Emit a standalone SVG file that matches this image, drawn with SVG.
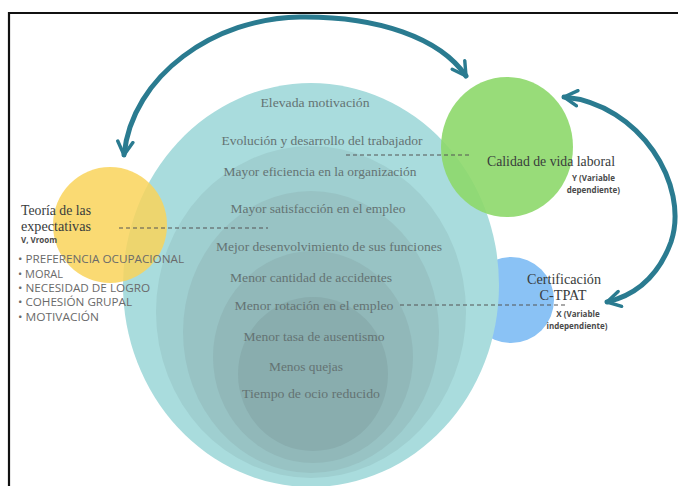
<svg xmlns="http://www.w3.org/2000/svg" width="678" height="486" viewBox="0 0 678 486">
<defs>
<marker id="ah" viewBox="0 0 10 10" refX="8" refY="5" markerWidth="3.8" markerHeight="3.8" orient="auto-start-reverse" markerUnits="strokeWidth">
<path d="M1,1 L8,5 L1,9" fill="none" stroke="#2a7b90" stroke-width="1.8" stroke-linecap="round" stroke-linejoin="round"/>
</marker>
</defs>
<style>
.ser{font-family:"Liberation Serif","DejaVu Serif",serif;}
.in{font-size:13px;fill:#647373;text-anchor:middle;}
.hd{font-size:14px;fill:#383c3c;}
.sm{font-family:"Open Sans","Liberation Sans",sans-serif;font-size:8px;font-weight:bold;fill:#4a4a4a;}
.bl{font-family:"Open Sans","Liberation Sans",sans-serif;font-size:11px;fill:#6a6a6a;}
.dash{stroke:#555;stroke-width:1.2;stroke-dasharray:4 3;fill:none;}
.arc{fill:none;stroke:#2a7b90;stroke-width:5;stroke-linecap:round;}
</style>
<rect width="678" height="486" fill="#fff"/>
<path d="M9,486 V13 H678" fill="none" stroke="#111" stroke-width="2.2"/>
<g id="certificacion">
<ellipse cx="511" cy="300" rx="43" ry="43" fill="#8ac2f5"/>
</g>
<g id="efectos">
<ellipse cx="311" cy="285" rx="188" ry="202" fill="#a9dcdd"/>
<ellipse cx="311" cy="312" rx="155" ry="166" fill="#9fcfd0"/>
<ellipse cx="311" cy="332" rx="128" ry="141" fill="#98c3c4"/>
<ellipse cx="313" cy="357" rx="100" ry="106" fill="#91b8b9"/>
<ellipse cx="313" cy="374" rx="75" ry="77" fill="#89adae"/>
<text class="ser in" x="315" y="107" textLength="109" lengthAdjust="spacingAndGlyphs">Elevada motivación</text>
<text class="ser in" x="322" y="145" textLength="201" lengthAdjust="spacingAndGlyphs">Evolución y desarrollo del trabajador</text>
<text class="ser in" x="320" y="176" textLength="193" lengthAdjust="spacingAndGlyphs">Mayor eficiencia en la organización</text>
<text class="ser in" x="318" y="213" textLength="175" lengthAdjust="spacingAndGlyphs">Mayor satisfacción en el empleo</text>
<text class="ser in" x="329" y="251" textLength="226" lengthAdjust="spacingAndGlyphs">Mejor desenvolvimiento de sus funciones</text>
<text class="ser in" x="311" y="282" textLength="162" lengthAdjust="spacingAndGlyphs">Menor cantidad de accidentes</text>
<text class="ser in" x="314" y="310" textLength="159" lengthAdjust="spacingAndGlyphs">Menor rotación en el empleo</text>
<text class="ser in" x="314" y="341" textLength="141" lengthAdjust="spacingAndGlyphs">Menor tasa de ausentismo</text>
<text class="ser in" x="306" y="371" textLength="74" lengthAdjust="spacingAndGlyphs">Menos quejas</text>
<text class="ser in" x="311" y="398" textLength="138" lengthAdjust="spacingAndGlyphs">Tiempo de ocio reducido</text>
</g>
<g id="teoria">
<ellipse cx="110" cy="225" rx="57" ry="58" fill="#f9d45a" fill-opacity="0.85"/>
<text class="ser hd" x="21" y="215" textLength="70" lengthAdjust="spacingAndGlyphs">Teoría de las</text>
<text class="ser hd" x="21" y="231" textLength="70" lengthAdjust="spacingAndGlyphs">expectativas</text>
<text class="sm" x="21" y="243" textLength="36" lengthAdjust="spacingAndGlyphs">V, Vroom</text>
<text class="bl" x="18" y="263" textLength="166" lengthAdjust="spacingAndGlyphs">• PREFERENCIA OCUPACIONAL</text>
<text class="bl" x="18" y="278">• MORAL</text>
<text class="bl" x="18" y="292" textLength="132" lengthAdjust="spacingAndGlyphs">• NECESIDAD DE LOGRO</text>
<text class="bl" x="18" y="306" textLength="114" lengthAdjust="spacingAndGlyphs">• COHESIÓN GRUPAL</text>
<text class="bl" x="18" y="321" textLength="81" lengthAdjust="spacingAndGlyphs">• MOTIVACIÓN</text>
</g>
<g id="calidad">
<ellipse cx="507" cy="147" rx="66" ry="70" fill="#8dd86a" fill-opacity="0.9"/>
<text class="ser hd" x="487" y="166" textLength="128" lengthAdjust="spacingAndGlyphs">Calidad de vida laboral</text>
<text class="sm" x="615" y="181" text-anchor="end">Y (Variable</text>
<text class="sm" x="620" y="193" text-anchor="end">dependiente)</text>
</g>
<g id="certificacion-texto">
<text class="ser hd" x="564" y="284" text-anchor="middle" textLength="74" lengthAdjust="spacingAndGlyphs">Certificación</text>
<text class="ser hd" x="563" y="300" text-anchor="middle" textLength="47" lengthAdjust="spacingAndGlyphs">C-TPAT</text>
<text class="sm" x="578" y="317" text-anchor="middle">X (Variable</text>
<text class="sm" x="577" y="329" text-anchor="middle">independiente)</text>
</g>
<g id="conectores">
<line class="dash" x1="346" y1="155" x2="470" y2="155"/>
<line class="dash" x1="119" y1="228" x2="268" y2="228"/>
<line class="dash" x1="400" y1="305" x2="567" y2="305"/>
<path class="arc" d="M124,155 C132,75 215,18 300,17 C378,16 440,38 466,76" marker-start="url(#ah)" marker-end="url(#ah)"/>
<path class="arc" d="M564,97 C640,104 690,185 671,242 C657,280 632,296 607,302" marker-start="url(#ah)" marker-end="url(#ah)"/>
</g>
</svg>
